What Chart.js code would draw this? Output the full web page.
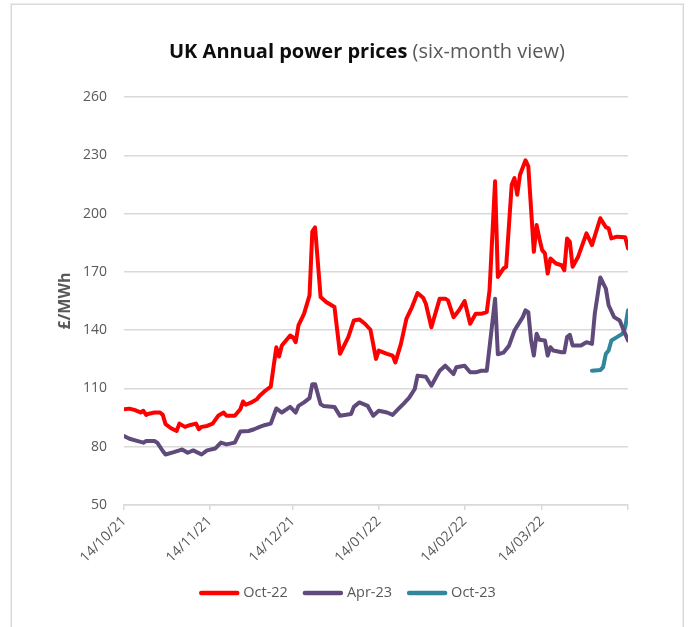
<!DOCTYPE html>
<html><head><meta charset="utf-8">
<script src="https://cdn.jsdelivr.net/npm/chart.js@4/dist/chart.umd.min.js"></script>
<style>html,body{margin:0;padding:0;background:#fff;overflow:hidden}</style>
</head><body>
<canvas id="c" width="689" height="627"></canvas>
<script>
// ---- text ----
const TITLE_MAIN = 'UK Annual power prices';
const TITLE_SUB = '(six-month view)';
const Y_LABEL = '£/MWh';
const seriesNames = ['Oct-22', 'Apr-23', 'Oct-23'];

// ---- x axis: days since 14/10/21, ticks on the 14th of each month ----
const startDate = [2021, 9, 14];
const tickDays = [0, 31, 61, 92, 123, 151, 182];
const unlabelledTicks = [182];
const yTicks = [50, 80, 110, 140, 170, 200, 230, 260];

// ---- Oct-22 contract ----
const oct22Days = [0,2,4,6,7,8,9,11,13,14,15,17,19,20,22,24,26,27,28,30,32,34,36,37,40,42,43,44,46,48,49,51,53,55,56,57,60,61,62,63,65,67,68,69,71,73,76,78,81,83,85,87,89,91,92,95,97,98,100,102,104,106,108,109,111,114,116,117,119,121,123,125,127,129,131,132,134,135,137,138,140,141,142,143,145,146,148,149,150,151,152,153,154,156,158,159,160,161,162,164,167,169,172,174,175,176,178,181,182];
const oct22Values = [99.3,99.6,98.8,97.6,98.5,96.4,97,97.6,97.6,96.4,91.6,89.5,88.1,91.9,90.2,91.2,91.9,89,90.2,90.7,91.9,95.9,97.6,95.9,95.9,99.3,103.3,101.6,102.8,104.5,106.2,108.8,110.9,131.2,126.4,132.1,137.2,136.4,133.8,142.4,148.4,157.9,190.7,192.9,157,154.5,151.9,127.8,136.4,145,145.5,143.3,140.2,125.2,129.5,127.8,126.9,123.4,132.9,145.9,151.9,159.1,156.7,153.6,141.5,156.2,156.2,155.3,146.7,150.2,155,143.3,148.4,148.4,149.3,160.5,216.6,167.4,171.7,172.6,214.8,218.3,209.7,220,227.4,224.3,180.3,194.1,187.2,181.2,179.5,169.1,176.9,174.3,173.4,170.8,187.2,185.5,172.6,177.8,189.8,183.8,197.6,193,192.4,187.2,188.1,187.8,182.1];

// ---- Apr-23 contract ----
const apr23Days = [0,2,5,7,8,11,12,14,15,18,20,21,23,25,28,30,33,35,37,40,42,45,47,49,51,53,55,57,60,62,63,65,67,68,69,71,72,76,78,82,83,85,88,90,92,95,97,99,101,103,105,106,109,111,113,114,116,119,120,123,125,127,129,131,132,134,135,137,139,141,144,145,146,147,148,149,150,152,153,154,155,158,159,160,161,162,165,167,169,170,172,174,175,177,179,180,182];
const apr23Values = [85.5,84.1,82.9,82.1,82.9,82.9,82.1,77.8,76,77.2,78.1,78.6,76.9,78.1,76,78.1,79.1,82.1,81.2,82.1,87.8,88.1,89,90.2,91.2,91.9,99.7,97.6,100.5,97.6,101,102.8,105,112.2,112.2,101.9,101,100.5,95.9,96.8,100.5,102.8,101,95.9,98.5,97.6,96.4,99.3,102.2,105.3,109.7,116.6,116,111.4,116.6,119.1,121.7,117.4,120.9,121.7,118.3,118.3,119.1,119.1,131.2,156.2,127.6,128.4,131.9,139.8,146.7,150.2,149.3,134.7,126.9,138.1,135,134.7,126.9,131.2,129.5,128.6,128.6,136.4,137.6,132.1,132.1,133.8,132.9,148.4,167.1,161.4,152.8,146.7,145,141.5,134.7];

// ---- Oct-23 contract ----
const oct23Days = [169,172,173,174,175,176,178,180,181,182];
const oct23Values = [119.1,119.5,120.9,127.8,129.5,134.7,136.4,138.1,141.5,150.2];

const seriesColors = ['#FF0000', '#604A7B', '#31859C'];
const FONT = "'Open Sans', 'DejaVu Sans', sans-serif";
const GREY = '#595959';
const GRID = '#D9D9D9';

function dayLabel(d) {
  const dt = new Date(startDate[0], startDate[1], startDate[2] + d);
  const dd = String(dt.getDate()).padStart(2, '0');
  const mm = String(dt.getMonth() + 1).padStart(2, '0');
  const yy = String(dt.getFullYear()).slice(2);
  return dd + '/' + mm + '/' + yy;
}
function pts(days, vals) { return days.map((d, i) => ({ x: d, y: vals[i] })); }

const seriesData = [pts(oct22Days, oct22Values), pts(apr23Days, apr23Values), pts(oct23Days, oct23Values)];

const decorPlugin = {
  id: 'decor',
  beforeDraw(chart) {
    const ctx = chart.ctx;
    ctx.save();
    ctx.strokeStyle = GRID;
    ctx.lineWidth = 1.5;
    ctx.strokeRect(11.25, 4.25, 672, 700);
    ctx.restore();
  },
  afterDraw(chart) {
    const ctx = chart.ctx;
    ctx.save();
    // title with two styles
    const fMain = "bold 20px " + FONT;
    const fSub = "20px " + FONT;
    ctx.font = fMain; const wMain = ctx.measureText(TITLE_MAIN + ' ').width;
    ctx.font = fSub; const wSub = ctx.measureText(TITLE_SUB).width;
    let x = 367 - (wMain + wSub) / 2;
    const yT = 58;
    ctx.textBaseline = 'alphabetic'; ctx.textAlign = 'left';
    ctx.font = fMain; ctx.fillStyle = '#0D0D0D'; ctx.fillText(TITLE_MAIN + ' ', x, yT);
    ctx.font = fSub; ctx.fillStyle = GREY; ctx.fillText(TITLE_SUB, x + wMain, yT);

    // legend
    const lineLen = 40, gap = 4, itemGap = 15;
    ctx.font = "14.5px " + FONT;
    const widths = seriesNames.map(n => lineLen + gap + ctx.measureText(n).width);
    const total = widths.reduce((a, b) => a + b, 0) + itemGap * (seriesNames.length - 1);
    let lx = 347.5 - total / 2;
    const ly = 593;
    seriesNames.forEach((n, i) => {
      ctx.strokeStyle = seriesColors[i];
      ctx.lineWidth = 4.5; ctx.lineCap = 'round';
      ctx.beginPath(); ctx.moveTo(lx + 2, ly); ctx.lineTo(lx + lineLen - 2, ly); ctx.stroke();
      ctx.fillStyle = GREY; ctx.textBaseline = 'middle';
      ctx.fillText(n, lx + lineLen + gap, ly);
      lx += widths[i] + itemGap;
    });
    ctx.restore();
  }
};

new Chart(document.getElementById('c'), {
  type: 'line',
  data: {
    datasets: seriesNames.map((n, i) => ({
      label: n,
      data: seriesData[i],
      borderColor: seriesColors[i],
      backgroundColor: seriesColors[i],
      borderWidth: 4,
      pointRadius: 0,
      tension: 0,
      borderJoinStyle: 'round',
      borderCapStyle: 'round',
      fill: false
    }))
  },
  options: {
    responsive: false,
    animation: false,
    devicePixelRatio: 1,
    layout: { padding: { left: 52, right: 61, top: 97, bottom: 62 } },
    plugins: { legend: { display: false }, title: { display: false }, tooltip: { enabled: false } },
    scales: {
      x: {
        type: 'linear',
        min: tickDays[0],
        max: tickDays[tickDays.length - 1],
        afterBuildTicks: s => { s.ticks = tickDays.map(v => ({ value: v })); },
        afterFit: s => { s.height = 60; },
        ticks: {
          autoSkip: false, minRotation: 45, maxRotation: 45, padding: 3,
          color: GREY, font: { family: FONT, size: 14 },
          callback: v => unlabelledTicks.includes(v) ? '' : dayLabel(v)
        },
        grid: { drawOnChartArea: false, drawTicks: true, tickLength: 5, color: GRID, lineWidth: 1.5 },
        border: { color: GRID, width: 1.5 }
      },
      y: {
        min: yTicks[0], max: yTicks[yTicks.length - 1],
        afterBuildTicks: s => { s.ticks = yTicks.map(v => ({ value: v })); },
        afterFit: s => { s.width = 72; },
        ticks: { color: GREY, font: { family: FONT, size: 14 }, padding: 17 },
        grid: { color: GRID, lineWidth: 1.5, drawTicks: false },
        border: { display: false },
        title: { display: true, text: Y_LABEL, color: GREY, font: { family: FONT, size: 16, weight: 'bold' }, padding: { top: 4, bottom: 0 } }
      }
    }
  },
  plugins: [decorPlugin]
});
</script>
</body></html>
